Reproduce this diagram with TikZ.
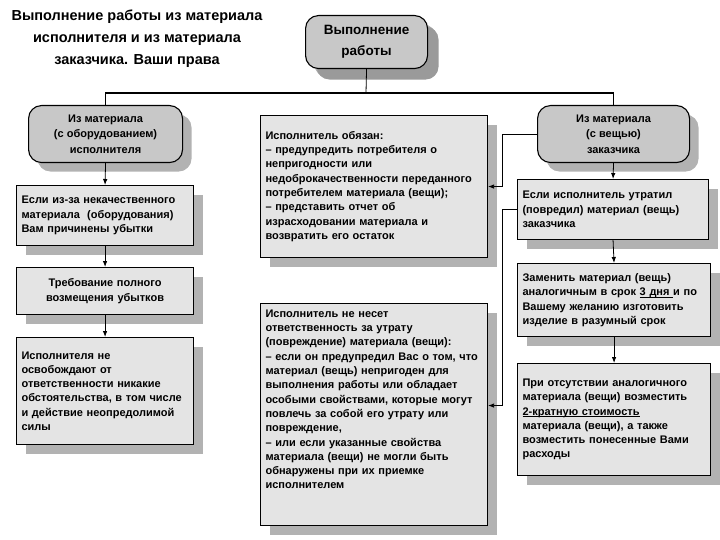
\documentclass[tikz,border=0pt]{standalone}
\usepackage{fontspec}
\setmainfont{Liberation Sans}
\usetikzlibrary{shadows,arrows.meta}
\definecolor{boxfill}{HTML}{E4E4E4}
\definecolor{roundfill}{HTML}{C8C8C8}
\definecolor{shadowgray}{HTML}{B2B2B2}
\definecolor{darkshadow}{HTML}{9A9A9A}
\newcommand\myul[1]{\leavevmode\setbox0\hbox{#1}\rlap{\smash{\rule[-2pt]{\wd0}{0.7pt}}}\box0}
\tikzset{
  shad/.style={drop shadow={shadow xshift=9pt, shadow yshift=-9pt, fill=shadowgray, opacity=1}},
  box/.style={draw=black, line width=1.1pt, fill=boxfill, anchor=north west, align=left,
    inner xsep=5pt, inner ysep=3pt, font=\bfseries\fontsize{11}{14.3}\selectfont, shad},
  cbox/.style={box, align=center},
  rbox/.style={draw=black, line width=1.1pt, fill=roundfill, anchor=north west, align=center,
    rounded corners=13pt, inner sep=3pt, font=\bfseries\fontsize{11}{15.5}\selectfont, shad},
  topbox/.style={rbox, font=\bfseries\fontsize{13.5}{21}\selectfont,
    drop shadow={shadow xshift=11pt, shadow yshift=-11pt, fill=darkshadow, opacity=1}},
  arr/.style={line width=0.8pt, -{Latex[length=6pt,width=4.5pt]}},
  thin/.style={line width=0.8pt},
  thick bar/.style={line width=1.6pt},
}
\begin{document}
\begin{tikzpicture}[x=1pt,y=-1pt]
\useasboundingbox (0,0) rectangle (720,540);
% title
\node[font=\bfseries\fontsize{14.5}{22}\selectfont, align=center] (title) at (137,39)
  {Выполнение работы из материала\\исполнителя и из материала\\заказчика. Ваши права};
% top node
\node[topbox, minimum width=122pt, minimum height=53pt] (top) at (305,15) {Выполнение\\работы};
% rounded boxes
\node[rbox, minimum width=154pt, minimum height=57pt] (lr) at (28,105)
  {Из материала\\(с оборудованием)\\исполнителя};
\node[rbox, minimum width=152pt, minimum height=57pt] (rr) at (537,105)
  {Из материала\\(с вещью)\\заказчика};
% left column
\node[box, minimum width=177pt, minimum height=60pt, text width=167pt] (e1) at (16,185)
  {Если из-за некачественного\\материала~ (оборудования)\\Вам причинены убытки};
\node[cbox, minimum width=177pt, minimum height=47pt, text width=167pt] (e2) at (16,267)
  {Требование полного\\возмещения убытков};
\node[box, minimum width=177pt, minimum height=107pt, text width=167pt] (e3) at (16,337)
  {Исполнителя не\\освобождают от\\ответственности никакие\\обстоятельства, в том числе\\и действие неопредолимой\\силы};
% middle column
\node[box, minimum width=227pt, minimum height=142pt, text width=217pt] (m1) at (260,115)
  {Исполнитель обязан:\\– предупредить потребителя о\\непригодности или\\недоброкачественности переданного\\потребителем материала (вещи);\\– представить отчет об\\израсходовании материала и\\возвратить его остаток};
\node[box, minimum width=227pt, minimum height=222pt, text width=217pt] (m2) at (260,303)
  {Исполнитель не несет\\ответственность за утрату\\(повреждение) материала (вещи):\\– если он предупредил Вас о том, что\\материал (вещь) непригоден для\\выполнения работы или обладает\\особыми свойствами, которые могут\\повлечь за собой его утрату или\\повреждение,\\– или если указанные свойства\\материала (вещи) не могли быть\\обнаружены при их приемке\\исполнителем\\[16pt]\mbox{}};
% right column
\node[box, minimum width=191pt, minimum height=60pt, text width=181pt] (r1) at (517,179)
  {Если исполнитель утратил\\(повредил) материал (вещь)\\заказчика};
\node[box, minimum width=193pt, minimum height=73pt, text width=183pt] (r2) at (517,263)
  {Заменить материал (вещь)\\аналогичным в срок \myul{3 дня }и по\\Вашему желанию изготовить\\изделие в разумный срок};
\node[box, minimum width=193pt, minimum height=112pt, text width=183pt] (r3) at (517,363)
  {При отсутствии аналогичного\\материала (вещи) возместить\\\myul{2-кратную стоимость}\\материала (вещи), а также\\возместить понесенные Вами\\расходы};
% connectors
\coordinate (bar) at (366,93);
\draw[thin] (top.south) -- (bar);
\draw[thick bar] (lr.north) |- (bar) -| (rr.north);
\draw[arr] (lr.south) -- (e1.north);
\draw[arr] (e1.south) -- (e2.north);
\draw[arr] (e2.south) -- (e3.north);
\draw[arr] (rr.south) -- (r1.north);
\draw[arr] (r1.south) -- (r2.north);
\draw[arr] (r2.south) -- (r3.north);
\draw[arr] (rr.west) -- ++(-35,0) |- (m1.east);
\draw[arr] (r1.west) -- ++(-15,0) |- ([yshift=9pt]m2.east);
\end{tikzpicture}
\end{document}
